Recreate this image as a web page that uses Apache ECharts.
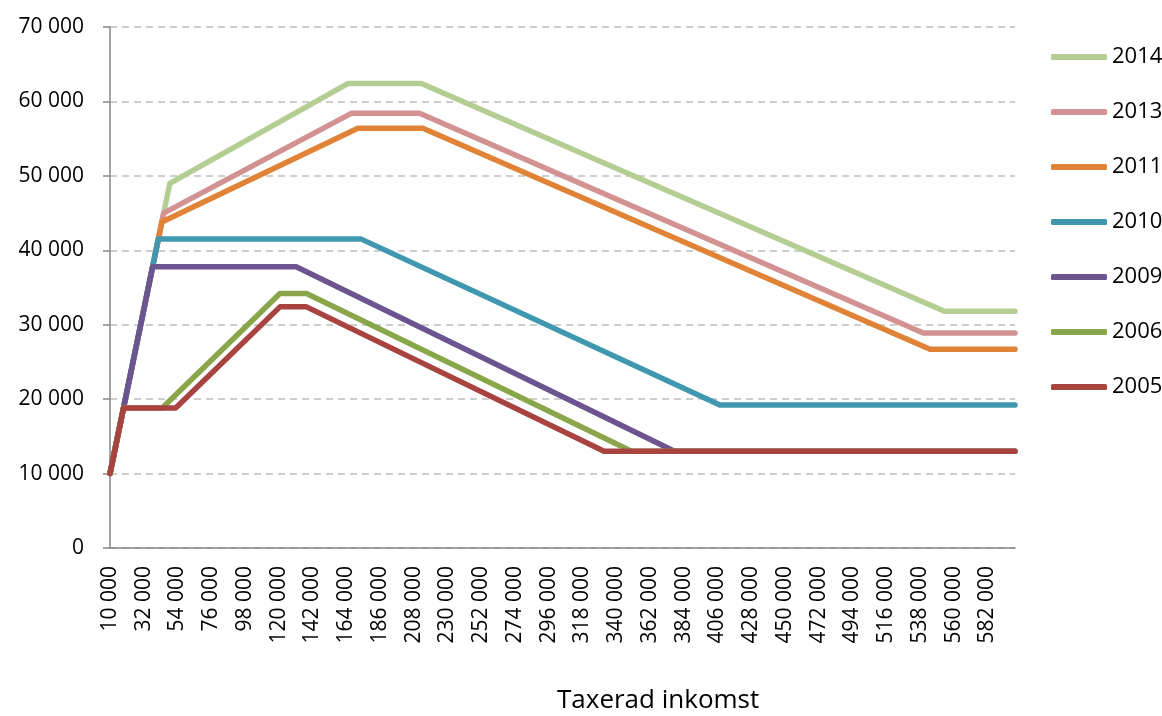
<!DOCTYPE html>
<html lang="sv">
<head>
    <meta charset="UTF-8">
    <title>Taxerad inkomst</title>
    <script src="https://cdn.jsdelivr.net/npm/echarts@6/dist/echarts.min.js"></script>
    <style>
        body { margin: 0; background: #fff; }
    </style>
</head>
<body>
    <div id="ec" style="width:1162px;height:716px"></div>
<script>
    // tick labels on the income axis
    var xTicks = [10000, 32000, 54000, 76000, 98000, 120000, 142000, 164000, 186000,
        208000, 230000, 252000, 274000, 296000, 318000, 340000, 362000, 384000,
        406000, 428000, 450000, 472000, 494000, 516000, 538000, 560000, 582000]

    // breakpoints (income, amount)
    var inc2014 = [10000, 49000, 165000, 213000, 554000, 600000]
    var val2014 = [10000, 49000, 62400, 62400, 31800, 31800]
    var inc2013 = [10000, 45000, 167300, 211800, 540200, 600000]
    var val2013 = [10000, 45000, 58400, 58400, 28900, 28900]
    var inc2011 = [10000, 43800, 171600, 214000, 544600, 600000]
    var val2011 = [10000, 43800, 56400, 56400, 26700, 26700]
    var inc2010 = [10000, 41500, 173800, 407600, 600000]
    var val2010 = [10000, 41500, 41500, 19200, 19200]
    var inc2009 = [10000, 37800, 131400, 378000, 600000]
    var val2009 = [10000, 37800, 37800, 13000, 13000]
    var inc2006 = [10000, 18800, 44000, 120800, 138100, 350000, 600000]
    var val2006 = [10000, 18800, 18800, 34200, 34200, 13000, 13000]
    var inc2005 = [10000, 18800, 52800, 120800, 138100, 332100, 600000]
    var val2005 = [10000, 18800, 18800, 32400, 32400, 13000, 13000]

    var years = ['2014', '2013', '2011', '2010', '2009', '2006', '2005']
    var incomes = [inc2014, inc2013, inc2011, inc2010, inc2009, inc2006, inc2005]
    var amounts = [val2014, val2013, val2011, val2010, val2009, val2006, val2005]
    var colors = ['#B4CD92', '#D39292', '#E08337', '#3F98B0', '#6B548F', '#89A74A', '#A9433F']

    var font = '"Open Sans", sans-serif'

    function fmt(v) {
        return String(v).replace(/\B(?=(\d{3})+(?!\d))/g, ' ')
    }

    var series = years.map(function (y, i) {
        return {
            name: y,
            type: 'line',
            showSymbol: false,
            symbol: 'none',
            color: colors[i],
            lineStyle: { width: 5.5, cap: 'round', join: 'round' },
            data: incomes[i].map(function (x, k) { return [x, amounts[i][k]] })
        }
    })

    var chart = echarts.init(document.getElementById('ec'))
    chart.setOption({
        animation: false,
        title: {
            text: 'Taxerad inkomst',
            left: 557,
            top: 688,
            padding: 0,
            textStyle: { fontFamily: font, fontSize: 26, fontWeight: 'normal', color: '#000' }
        },
        legend: {
            orient: 'vertical',
            left: 1046,
            top: 41,
            itemGap: 33,
            itemWidth: 56,
            itemHeight: 6,
            icon: 'roundRect',
            data: years,
            textStyle: { fontFamily: font, fontSize: 22, color: '#000', lineHeight: 22 }
        },
        grid: { left: 110, right: 147, top: 27, bottom: 168 },
        xAxis: {
            type: 'value',
            min: 10000,
            max: 600000,
            axisLine: { lineStyle: { color: '#868686', width: 1.5 } },
            axisTick: { show: false },
            splitLine: { show: false },
            axisLabel: {
                customValues: xTicks,
                rotate: 90,
                margin: 18,
                color: '#000',
                fontFamily: font,
                fontSize: 21,
                formatter: fmt
            }
        },
        yAxis: {
            type: 'value',
            min: 0,
            max: 70000,
            interval: 10000,
            axisLine: { show: true, lineStyle: { color: '#868686', width: 1.5 } },
            axisTick: { show: true, length: 7, lineStyle: { color: '#868686', width: 1.5 } },
            splitLine: { lineStyle: { color: '#BFBFBF', width: 1.5, type: [7, 5] } },
            axisLabel: {
                margin: 26,
                color: '#000',
                fontFamily: font,
                fontSize: 21,
                formatter: fmt
            }
        },
        series: series
    })
</script>
</body>
</html>
